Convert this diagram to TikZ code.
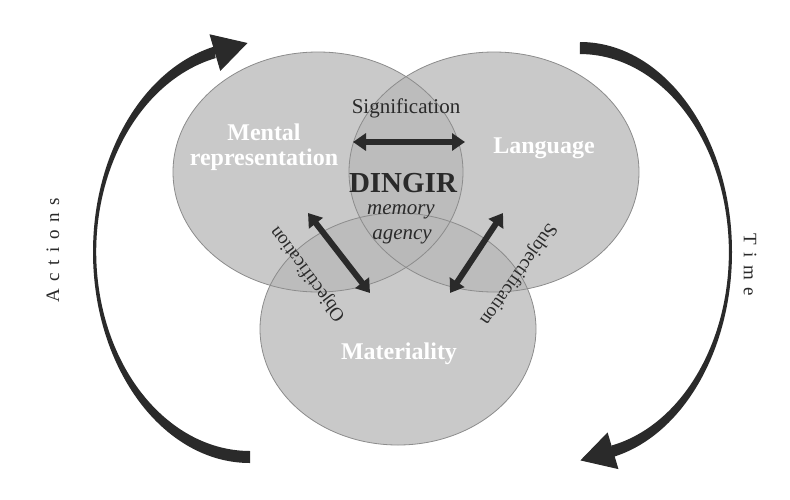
\documentclass[tikz,border=0pt]{standalone}
\usepackage{fontspec}
\setmainfont{Liberation Serif}
\usepackage{tikz}
\usetikzlibrary{arrows.meta}
\definecolor{lobegray}{RGB}{185,185,185}
\definecolor{darkink}{RGB}{42,42,42}
\newcommand{\lobefont}{\fontsize{24}{25}\selectfont\bfseries}
\newcommand{\notefont}{\fontsize{21}{22}\selectfont}
\newcommand{\sidefont}{\fontsize{19}{20}\selectfont}
\newcommand{\spaced}[1]{{\addfontfeature{LetterSpace=40}#1}}
\tikzset{
    lobe/.style={fill=lobegray, fill opacity=0.76},
    rim/.style={draw=black!45, line width=0.8pt},
    lobelabel/.style={text=white, font=\lobefont, align=center},
    note/.style={text=darkink, font=\notefont},
    sidenote/.style={text=darkink, font=\sidefont},
    cyclelabel/.style={text=darkink, font=\sidefont},
    link/.style={{Triangle[length=13pt,width=17pt]}-{Triangle[length=13pt,width=17pt]}, line width=6pt, darkink},
    sweep/.style={fill=darkink},
    cyclehead/.style={-{Triangle[length=34pt,width=38pt]}, line width=1pt, darkink}
}

\begin{document}
\begin{tikzpicture}[x=1pt,y=-1pt]
            \useasboundingbox[fill=white] (0,0) rectangle (790,499);

            % lobes
            \path[lobe] (318,172) ellipse [x radius=145, y radius=120];
            \path[lobe] (494,172) ellipse [x radius=145, y radius=120];
            \path[lobe] (398,329) ellipse [x radius=138, y radius=116];
            \draw[rim] (318,172) ellipse [x radius=145, y radius=120];
            \draw[rim] (494,172) ellipse [x radius=145, y radius=120];
            \draw[rim] (398,329) ellipse [x radius=138, y radius=116];

            % the two sweeping arrows
            \fill[sweep] (250,463) arc [start angle=90, end angle=257, x radius=157, y radius=211]
                -- (215.6,58.1) arc [start angle=257, end angle=90, x radius=154, y radius=199] -- cycle;
            \fill[sweep] (580,42) arc [start angle=-90, end angle=77.7, x radius=152, y radius=210]
                -- (611.6,445.5) arc [start angle=77.7, end angle=-90, x radius=149, y radius=198] -- cycle;
            \coordinate (actbase) at (200,57);
            \coordinate (acttip) at (247.5,43);
            \coordinate (timebase) at (624,447.5);
            \coordinate (timetip) at (580.4,460.4);
            \draw[cyclehead] (actbase) -- (acttip);
            \draw[cyclehead] (timebase) -- (timetip);

            \node[lobelabel] (mental) at (264,147) {Mental\\representation};
            \node[lobelabel] (language) at (544,148) {Language};
            \node[lobelabel] (materiality) at (399,354) {Materiality};

            \node[text=darkink, font=\fontsize{29}{30}\selectfont\bfseries] (dingir) at (403,183) {DINGIR};
            \node[note, font=\notefont\itshape] (memory) at (401,212) {memory};
            \node[note, font=\notefont\itshape] (agency) at (402,237) {agency};
            \node[note] (signif) at (406,108) {Signification};
            \node[sidenote, rotate=126.6] (objectif) at (308,274) {Objectification};
            \node[sidenote, rotate=-125] (subjectif) at (518,274) {Subjectification};
            \node[cyclelabel, rotate=90] (actions) at (53,250) {\spaced{Actions}};
            \node[cyclelabel, rotate=-90] (time) at (750,265) {\spaced{Time}};

            \coordinate (sigL) at (353,142);
            \coordinate (sigR) at (465,142);
            \coordinate (objT) at (308,213);
            \coordinate (objB) at (370,293);
            \coordinate (subT) at (503,213);
            \coordinate (subB) at (450,293);
            \draw[link] (sigL) -- (sigR);
            \draw[link] (objT) -- (objB);
            \draw[link] (subT) -- (subB);

        \end{tikzpicture}
\end{document}
